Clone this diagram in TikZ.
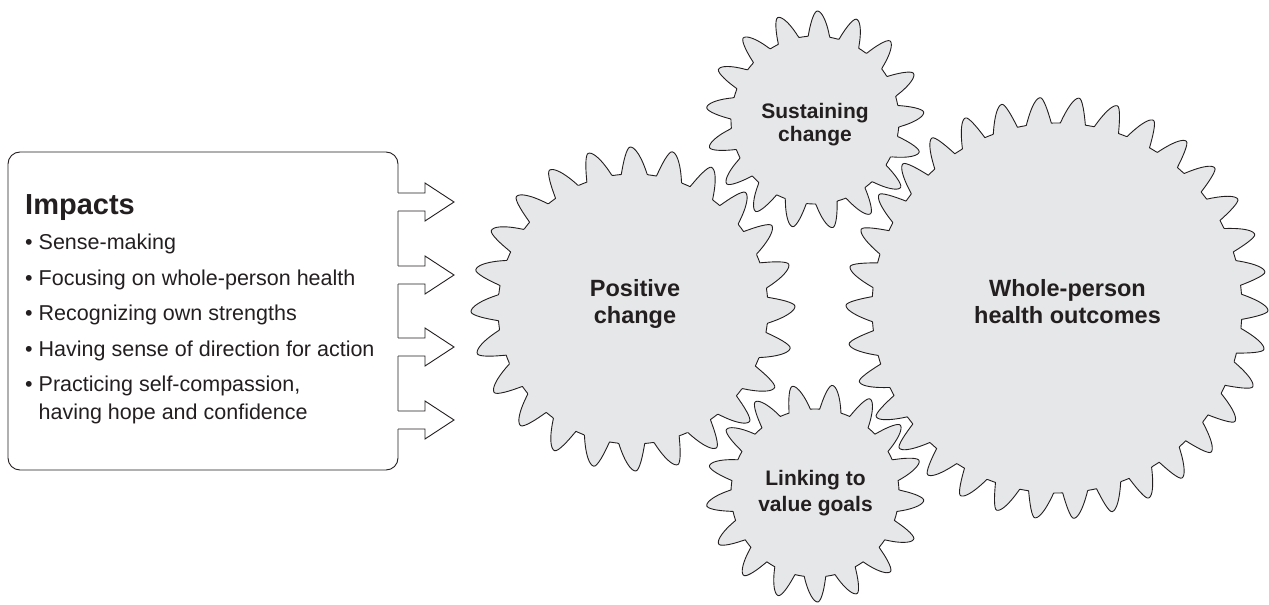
\documentclass[tikz,border=0pt]{standalone}
\usepackage{fontspec}
\setmainfont{Liberation Sans}
\definecolor{gearfill}{RGB}{230,231,232}
\definecolor{ink}{RGB}{35,31,32}
% cx, cy, root radius, depth, teeth, phase, tip offset, lower flank, upper flank
\newcommand\drawgear[9]{%
  \draw[gearline, shift={(#1,#2)}] plot[domain=0:360, samples=\the\numexpr #5*30+1\relax, variable=\t]
    ({\t}:{#3 + #4*tooth(mod(#5*\t+#6,360)-180-(#7),#8,#9)}) -- cycle;}
\begin{document}
\begin{tikzpicture}[x=1pt,y=1pt,
  declare function={tv(\u,\a,\b)=min(2,max(-2,\u/((\u<0)*\a+(\u>=0)*\b)));
    tri(\v)=(1.0440-sqrt(\v*\v+0.09))/0.7440;
    tooth(\u,\a,\b)=max(0,0.45*cos(90*tv(\u,\a,\b))+0.55*tri(tv(\u,\a,\b)));},
  gearline/.style={draw=ink, line width=0.9pt, fill=gearfill, line join=round},
  outline/.style={draw=ink, line width=0.9pt, line join=miter},
  head/.style={font=\bfseries\fontsize{29}{32}\selectfont, text=ink, inner sep=0pt, anchor=base west},
  item/.style={font=\fontsize{21.5}{25}\selectfont, text=ink, inner sep=0pt, anchor=base west},
  biglabel/.style={font=\bfseries\fontsize{23.5}{27}\selectfont, text=ink, inner sep=0pt, anchor=base},
  smalllabel/.style={font=\bfseries\fontsize{21}{24}\selectfont, text=ink, inner sep=0pt, anchor=base}]
\useasboundingbox (0,0) rectangle (1269,605);
% gears
\drawgear{633}{296}{135}{27}{24}{193}{37}{170}{95}
\drawgear{1057}{297}{185}{26}{34}{168}{-37}{95}{170}
\drawgear{815}{485}{84}{25}{17}{136}{25}{150}{100}
\drawgear{815}{112}{84}{25}{17}{270.5}{25}{150}{100}
\coordinate (gP) at (633,296);
\coordinate (gW) at (1057,297);
\coordinate (gS) at (815,485);
\coordinate (gL) at (815,112);
% box
\node[outline, rounded corners=12pt, minimum width=390pt, minimum height=318pt, inner sep=0pt] (box) at (203,294) {};
\foreach \yc/\nm in {403/a1,330/a2,258/a3,185/a4}{
  \fill[white] (397,\yc-9) rectangle (425,\yc+9);
  \coordinate (\nm) at (454,\yc);
  \draw[outline] (398,\yc+9) -- (425,\yc+9) -- (425,\yc+19) -- (\nm) -- (425,\yc-19) -- (425,\yc-9) -- (398,\yc-9);
}
% texts
\node[head] (imp) at (25,390) {Impacts};
\node[item] (i1) at (25,355) {• Sense-making};
\node[item] (i2) at (25,319.3) {• Focusing on whole-person health};
\node[item] (i3) at (25,284) {• Recognizing own strengths};
\node[item] (i4) at (25,248.3) {• Having sense of direction for action};
\node[item] (i5) at (25,213.3) {• Practicing self-compassion,};
\node[item] (i6) at (38.5,185) {having hope and confidence};
\node[biglabel] (p1) at (635,308.3) {Positive};
\node[biglabel] (p2) at (635,281) {change};
\node[biglabel] (w1) at (1067.5,308.3) {Whole-person};
\node[biglabel] (w2) at (1067.5,281.7) {health outcomes};
\node[smalllabel] (s1) at (815,486.7) {Sustaining};
\node[smalllabel] (s2) at (815,463.3) {change};
\node[smalllabel] (l1) at (815.5,119) {Linking to};
\node[smalllabel] (l2) at (815.5,93.3) {value goals};
\end{tikzpicture}
\end{document}
